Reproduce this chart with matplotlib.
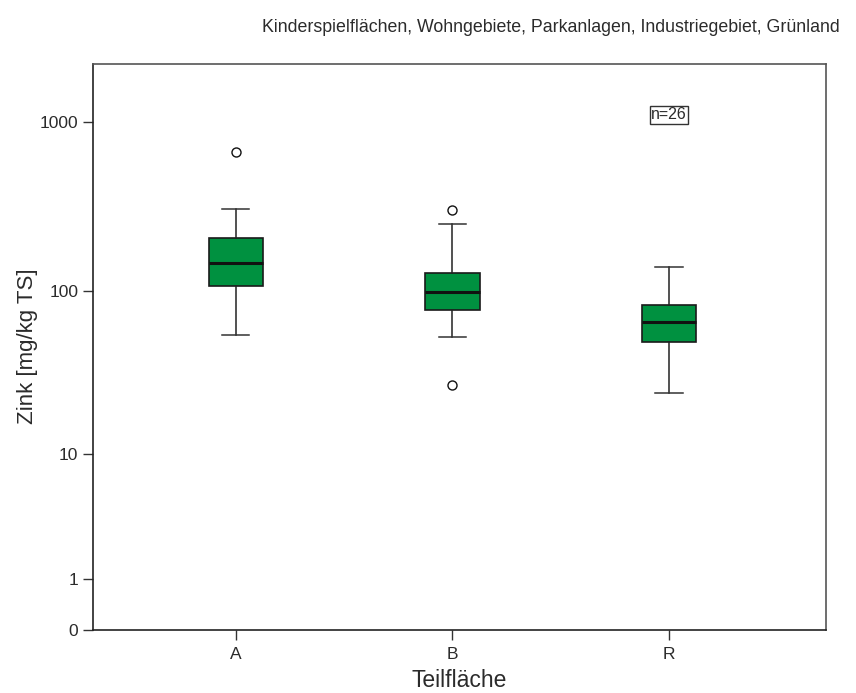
import matplotlib
matplotlib.use("Agg")
import matplotlib.pyplot as plt
import numpy as np

plt.rcParams['font.family'] = ['Liberation Sans', 'DejaVu Sans']

# Boxplot statistics (mg/kg TS)
groups = ['A', 'B', 'R']
whis_lo = [54, 53, 24]
q1 = [107, 77, 49]
median = [146, 98, 65]
q3 = [206, 128, 82]
whis_hi = [307, 250, 139]
fliers = [[660], [303, 27], []]

title = 'Kinderspielflächen, Wohngebiete, Parkanlagen, Industriegebiet, Grünland'
n_label = 'n=26'
y_ticks = [0, 1, 10, 100, 1000]

text_col = '#2b2b2b'

stats = []
for i in range(len(groups)):
    stats.append(dict(label=groups[i], whislo=whis_lo[i], q1=q1[i], med=median[i],
                      q3=q3[i], whishi=whis_hi[i], fliers=fliers[i]))

fig = plt.figure(figsize=(8.56, 6.93), dpi=100)
ax = fig.add_axes([93/856, 1 - 630/693, (826-93)/856, (630-64)/693])

# y axis is log10(value + 1), so 0 can be shown
ax.set_yscale('function', functions=(lambda v: np.log10(np.clip(v, 0, None) + 1),
                                     lambda v: 10**v - 1))

ax.bxp(stats, positions=[1, 2, 3], widths=0.25, patch_artist=True,
       boxprops=dict(facecolor='#009140', edgecolor='#1a1a1a', linewidth=1.2),
       medianprops=dict(color='#111111', linewidth=2.2),
       whiskerprops=dict(color='#222222', linewidth=1.1),
       capprops=dict(color='#333333', linewidth=1.1),
       capwidths=0.125,
       flierprops=dict(marker='o', markersize=6.5, markerfacecolor='white',
                       markeredgecolor='#111111', markeredgewidth=1.0))

ax.set_ylim(0, 2200)
ax.set_xlim(0.34, 3.725)
ax.set_yticks(y_ticks)
ax.set_yticklabels([str(t) for t in y_ticks])
ax.minorticks_off()
ax.tick_params(axis='both', direction='out', length=7, width=1, labelsize=12.5,
               color='#333333', labelcolor=text_col)
ax.tick_params(axis='x', pad=5)

for side in ['left', 'bottom']:
    ax.spines[side].set_color('#222222')
    ax.spines[side].set_linewidth(1.2)
for side in ['top', 'right']:
    ax.spines[side].set_color('#555555')
    ax.spines[side].set_linewidth(1.2)

ax.set_xlabel('Teilfläche', fontsize=16.5, color=text_col, labelpad=5)
ax.set_ylabel('Zink [mg/kg TS]', fontsize=16, color=text_col)
ax.yaxis.set_label_coords(-0.075, 0.502)

ax.text(3.0, 1100, n_label, fontsize=11.5, ha='center', va='center', color=text_col,
        bbox=dict(boxstyle='square,pad=0.08', facecolor='white', edgecolor='#333333', linewidth=1))

fig.text(840/856, 1 - 28/693, title, fontsize=12.8, ha='right', va='center', color=text_col)

fig.savefig('out.png', dpi=100)
